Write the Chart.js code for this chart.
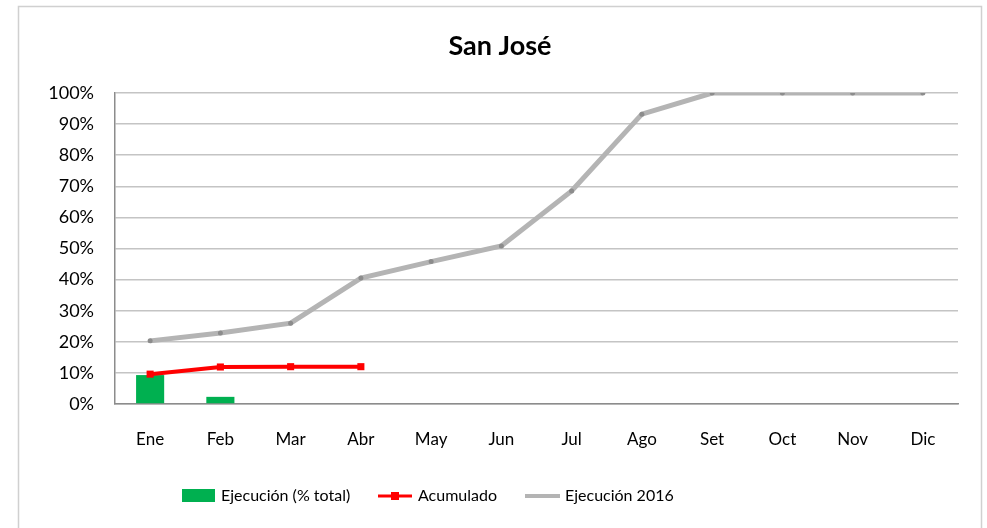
<!DOCTYPE html>
<html>
<head>
<meta charset="utf-8">
<script src="https://cdn.jsdelivr.net/npm/chart.js@4.4.1/dist/chart.umd.min.js"></script>
<style>
  html, body { margin: 0; padding: 0; background: #fff; }
  #wrap { width: 987px; height: 528px; }
</style>
</head>
<body>
<div id="wrap"><canvas id="chart" width="987" height="528"></canvas></div>
<script>
// === DATA ===
const months = ["Ene", "Feb", "Mar", "Abr", "May", "Jun", "Jul", "Ago", "Set", "Oct", "Nov", "Dic"];
const ejecucionTotal = [0.093, 0.023, null, null, null, null, null, null, null, null, null, null];
const acumulado = [0.096, 0.119, 0.12, 0.12, null, null, null, null, null, null, null, null];
const ejecucion2016 = [0.203, 0.228, 0.26, 0.405, 0.458, 0.508, 0.685, 0.932, 1, 1, 1, 1];
const yTicks = [0, 0.1, 0.2, 0.3, 0.4, 0.5, 0.6, 0.7, 0.8, 0.9, 1];

const FONT = "Lato, 'Open Sans', sans-serif";
const GREEN = "#00b050";
const RED = "#ff0000";
const GRAY = "#b4b4b4";

// frame, title and legend drawn around the chart
const decorPlugin = {
    id: "decor",
    beforeDraw(chart) {
        const ctx = chart.ctx;
        ctx.save();
        ctx.fillStyle = "#fff";
        ctx.fillRect(0, 0, chart.width, chart.height);
        ctx.strokeStyle = "#d0d0d0";
        ctx.lineWidth = 1.5;
        ctx.strokeRect(18.5, 6.5, 963, 530);
        ctx.restore();
    },
    afterDraw(chart) {
        const ctx = chart.ctx;
        ctx.save();
        // title
        ctx.fillStyle = "#000";
        ctx.font = "bold 27px " + FONT;
        ctx.textAlign = "center";
        ctx.textBaseline = "middle";
        ctx.fillText("San José", 500, 46);

        // legend
        const ly = 496;
        ctx.font = "16px " + FONT;
        ctx.textAlign = "left";
        ctx.fillStyle = GREEN;
        ctx.fillRect(182, 489, 33, 13);
        ctx.fillStyle = "#000";
        ctx.fillText(chart.data.datasets[0].label, 221, ly);

        ctx.strokeStyle = RED;
        ctx.lineWidth = 3;
        ctx.beginPath();
        ctx.moveTo(378, ly);
        ctx.lineTo(412, ly);
        ctx.stroke();
        ctx.fillStyle = RED;
        ctx.fillRect(391, ly - 4, 8, 8);
        ctx.fillStyle = "#000";
        ctx.fillText(chart.data.datasets[1].label, 418, ly);

        ctx.strokeStyle = GRAY;
        ctx.lineWidth = 4;
        ctx.beginPath();
        ctx.moveTo(525, ly);
        ctx.lineTo(560, ly);
        ctx.stroke();
        ctx.fillText(chart.data.datasets[2].label, 565, ly);
        ctx.restore();
    }
};

function createChart() {
    const ctx = document.getElementById("chart").getContext("2d");

    new Chart(ctx, {
        type: "bar",
        data: {
            labels: months,
            datasets: [{
                type: "bar",
                label: "Ejecución (% total)",
                data: ejecucionTotal,
                backgroundColor: GREEN,
                barPercentage: 0.4,
                categoryPercentage: 1,
                order: 2
            }, {
                type: "line",
                label: "Acumulado",
                data: acumulado,
                borderColor: RED,
                backgroundColor: RED,
                borderWidth: 4,
                pointStyle: "rect",
                pointRadius: 5,
                pointBorderWidth: 0,
                tension: 0,
                order: 0
            }, {
                type: "line",
                label: "Ejecución 2016",
                data: ejecucion2016,
                borderColor: GRAY,
                backgroundColor: "#8c8c8c",
                borderWidth: 5,
                pointRadius: 2.5,
                pointBorderWidth: 0,
                tension: 0,
                order: 1
            }]
        },
        options: {
            responsive: false,
            animation: false,
            layout: { padding: { left: 0, right: 29, top: 93, bottom: 0 } },
            plugins: {
                legend: { display: false },
                title: { display: false },
                tooltip: { enabled: false }
            },
            scales: {
                x: {
                    offset: true,
                    grid: { display: false, drawTicks: false },
                    border: { color: "#8c8c8c", width: 1.5 },
                    ticks: { color: "#000", font: { family: FONT, size: 17 }, padding: 25 },
                    afterFit: s => { s.height = 124; }
                },
                y: {
                    min: 0,
                    max: 1,
                    afterBuildTicks: s => { s.ticks = yTicks.map(v => ({ value: v })); },
                    grid: { color: "#c4c4c4", lineWidth: 1.5, drawTicks: false },
                    border: { color: "#8c8c8c", width: 1.5 },
                    ticks: {
                        color: "#000",
                        font: { family: FONT, size: 18 },
                        padding: 21,
                        callback: v => Math.round(v * 100) + "%"
                    },
                    afterFit: s => { s.width = 115; }
                }
            }
        },
        plugins: [decorPlugin]
    });
}

document.addEventListener("DOMContentLoaded", createChart);
</script>
</body>
</html>
